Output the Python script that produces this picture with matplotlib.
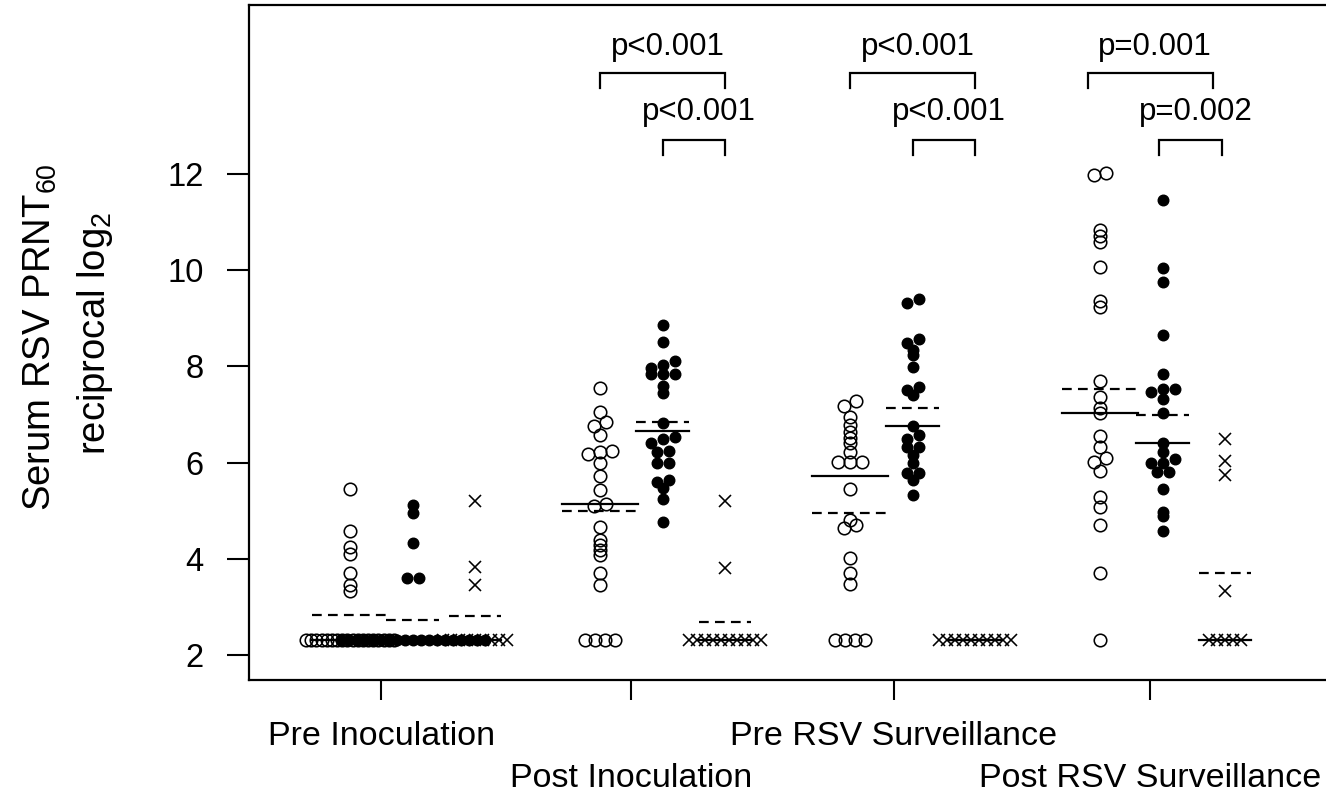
import numpy as np
import matplotlib.pyplot as plt

plt.rcParams['font.family'] = ['Liberation Sans', 'DejaVu Sans']
plt.rcParams['mathtext.default'] = 'regular'
plt.rcParams['lines.scale_dashes'] = False

LOD = 2.32  # reciprocal log2 of the 1:5 detection limit

row1_labels = ["Pre Inoculation", "Pre RSV Surveillance"]
row1_pos = [1.5, 9.7]
row2_labels = ["Post Inoculation", "Post RSV Surveillance"]
row2_pos = [5.5, 13.8]

# values above the detection limit, one list per timepoint
open_vals = [
    [5.45, 4.58, 4.25, 4.10, 3.71, 3.45, 3.32],
    [7.54, 7.06, 6.84, 6.75, 6.57, 6.23, 6.21, 6.18, 5.98, 5.71, 5.43,
     5.14, 5.10, 4.67, 4.39, 4.29, 4.18, 4.08, 3.70, 3.46],
    [7.27, 7.18, 6.95, 6.78, 6.64, 6.50, 6.40, 6.21, 6.02, 6.02, 6.02,
     5.45, 4.81, 4.70, 4.63, 4.02, 3.71, 3.47],
    [11.98, 12.01, 10.84, 10.71, 10.59, 10.06, 9.35, 9.23, 7.70, 7.37,
     7.13, 7.02, 6.55, 6.33, 6.09, 6.02, 5.83, 5.28, 5.08, 4.70, 3.70],
]
filled_vals = [
    [5.12, 4.95, 4.32, 3.59, 3.59],
    [8.86, 8.51, 8.11, 8.03, 7.96, 7.84, 7.84, 7.84, 7.59, 7.44, 6.83,
     6.54, 6.48, 6.41, 6.23, 6.21, 6.00, 6.00, 5.64, 5.60, 5.47, 5.24, 4.76],
    [9.40, 9.32, 8.56, 8.48, 8.34, 8.24, 7.98, 7.58, 7.51, 7.41, 6.75,
     6.57, 6.48, 6.33, 6.33, 6.16, 6.00, 5.79, 5.79, 5.64, 5.33],
    [11.46, 10.04, 9.75, 8.65, 7.84, 7.53, 7.53, 7.47, 7.32, 7.04, 6.41,
     6.21, 6.07, 5.98, 5.98, 5.80, 5.80, 5.45, 4.98, 4.88, 4.58],
]
cross_vals = [
    [5.21, 3.82, 3.46],
    [5.21, 3.80],
    [],
    [6.48, 6.04, 5.74, 3.32],
]
# number of subjects at the detection limit
open_lod = [18, 4, 4, 1]
filled_lod = [19, 0, 0, 0]
cross_lod = [9, 10, 10, 5]

# medians (solid) and means (dashed)
open_median = [LOD, 5.13, 5.72, 7.04]
open_mean = [2.83, 5.00, 4.96, 7.53]
filled_median = [LOD, 6.66, 6.75, 6.41]
filled_mean = [2.73, 6.84, 7.13, 6.98]
cross_median = [LOD, LOD, LOD, LOD]
cross_mean = [2.80, 2.69, LOD, 3.70]

# p-value brackets: (left, right, level, label)
brackets = [
    (5, 7, 0, "p<0.001"), (6, 7, 1, "p<0.001"),
    (9, 11, 0, "p<0.001"), (10, 11, 1, "p<0.001"),
    (12.8, 14.8, 0, "p=0.001"), (13.95, 14.95, 1, "p=0.002"),
]

W, H = 1326, 796
fig = plt.figure(figsize=(W / 100, H / 100), dpi=100)
ax = fig.add_axes([249 / W, 1 - 680 / H, 1 - 249 / W, 675 / H])
xlim = (-0.616, 16.616)
ylim = (1.48, 15.51)
ax.set_xlim(*xlim)
ax.set_ylim(*ylim)
ppx = (W - 249) / (xlim[1] - xlim[0])
ppy = 675 / (ylim[1] - ylim[0])


def layout(vals, n_lod, tie=8.0, cap=44.0, step=12.0, thr=4.5):
    """group near-equal values and spread each group sideways (px -> data)"""
    xs, ys = [], []
    if n_lod:
        sp = tie if n_lod < 2 else min(tie, 2 * cap / (n_lod - 1))
        off = (np.arange(n_lod) - (n_lod - 1) / 2) * sp
        xs += list(off / ppx)
        ys += [LOD] * n_lod
    v = sorted(vals)
    i = 0
    while i < len(v):
        j = i + 1
        while j < len(v) and (v[j] - v[j - 1]) * ppy < thr:
            j += 1
        k = j - i
        off = (np.arange(k) - (k - 1) / 2) * step
        xs += list(off / ppx)
        ys += v[i:j]
        i = j
    return np.array(xs), np.array(ys)


for g in range(4):
    base = 1 + 4 * g
    x, y = layout(open_vals[g], open_lod[g], tie=10, cap=44)
    ax.plot(base + x, y, 'o', mfc='none', mec='black', ms=9, mew=1.15,
            ls='none')
    x, y = layout(filled_vals[g], filled_lod[g], cap=72)
    ax.plot(base + 1 + x, y, 'o', color='black', ms=7.6, ls='none')
    x, y = layout(cross_vals[g], cross_lod[g], cap=36)
    ax.plot(base + 2 + x, y, 'x', color='black', ms=8.3, mew=1.15, ls='none')

    for c, (med, mn, hw) in enumerate([(open_median[g], open_mean[g], 0.61),
                                       (filled_median[g], filled_mean[g], 0.42),
                                       (cross_median[g], cross_mean[g], 0.42)]):
        xc = base + c
        ax.plot([xc - hw, xc + hw], [med, med], color='black', lw=1.6)
        ax.plot([xc - hw, xc + hw], [mn, mn], color='black', lw=1.6,
                dashes=(7, 4.5))

levels = [14.10, 12.71]
text_y = [14.64, 13.29]
for x1, x2, lv, lab in brackets:
    yb = levels[lv]
    ax.plot([x1, x1, x2, x2], [yb - 0.31, yb, yb, yb - 0.31], color='black',
            lw=1.6, solid_joinstyle='miter')
    ax.text((x1 + x2) / 2 + 0.08, text_y[lv], lab, ha='center', va='center',
            fontsize=22.5)

ax.set_yticks([2, 4, 6, 8, 10, 12])
ax.set_xticks(row1_pos)
ax.set_xticklabels(row1_labels, fontsize=24.5)
ax.set_xticks(row2_pos, minor=True)
ax.set_xticklabels(row2_labels, minor=True, fontsize=24.5)
ax.tick_params(axis='y', labelsize=23.5, length=15.5, width=1.5, pad=17)
ax.tick_params(axis='x', which='both', length=14.5, width=1.5)
ax.tick_params(axis='x', which='major', pad=15)
ax.tick_params(axis='x', which='minor', pad=45.5)
for s in ['left', 'bottom', 'top']:
    ax.spines[s].set_linewidth(1.6)
ax.spines['right'].set_visible(False)

fig.text(40 / W, 1 - 337 / H, "Serum RSV PRNT$_{60}$", rotation=90,
         ha='center', va='center', fontsize=27.5)
fig.text(95 / W, 1 - 333 / H, "reciprocal log$_{2}$", rotation=90,
         ha='center', va='center', fontsize=27.5)

fig.savefig("out.png", dpi=100)
